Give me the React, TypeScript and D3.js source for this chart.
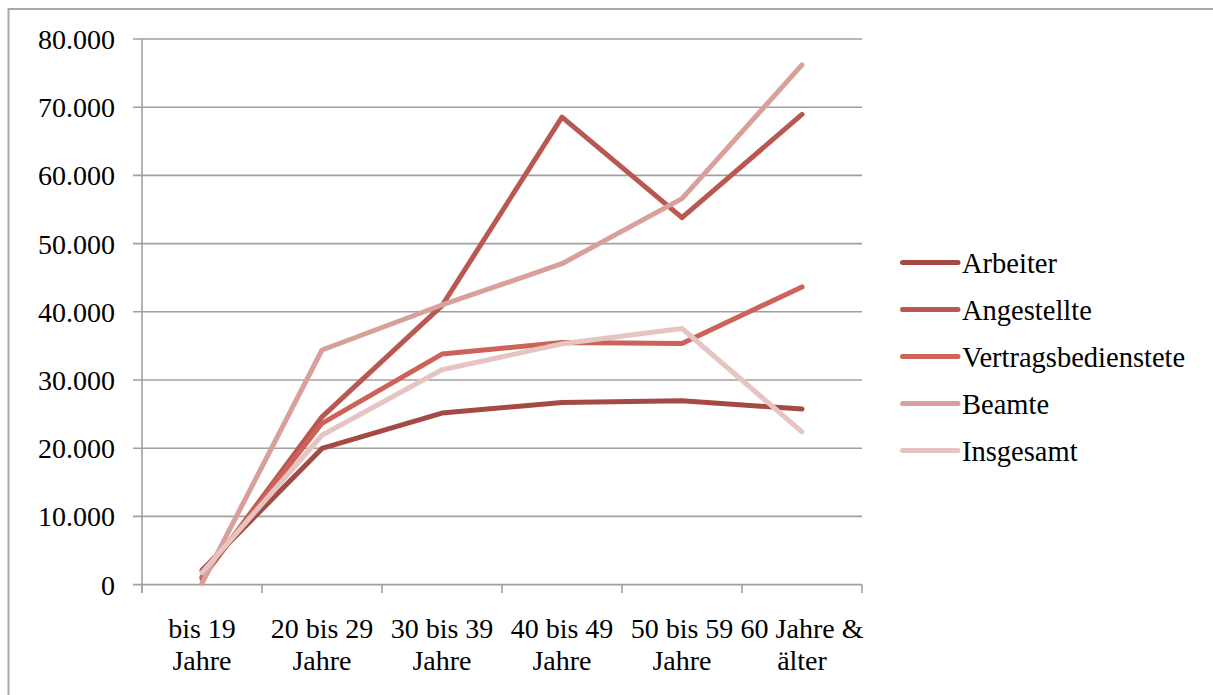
import React from "react";
import * as d3 from "d3";

// Age groups shown along the x axis (two-line labels)
const categories = ["bis 19 Jahre", "20 bis 29 Jahre", "30 bis 39 Jahre", "40 bis 49 Jahre", "50 bis 59 Jahre", "60 Jahre & älter"];
const categoryLines = [
  ["bis 19", "Jahre"],
  ["20 bis 29", "Jahre"],
  ["30 bis 39", "Jahre"],
  ["40 bis 49", "Jahre"],
  ["50 bis 59", "Jahre"],
  ["60 Jahre &", "älter"],
];

// Income per employee group and age group
const arbeiter = [2100, 19970, 25150, 26700, 26950, 25750];
const angestellte = [900, 24600, 40900, 68550, 53800, 68950];
const vertragsbedienstete = [1150, 23650, 33800, 35500, 35350, 43650];
const beamte = [200, 34400, 41000, 47050, 56600, 76200];
const insgesamt = [1750, 21900, 31500, 35300, 37550, 22400];

const seriesNames = ["Arbeiter", "Angestellte", "Vertragsbedienstete", "Beamte", "Insgesamt"];
const seriesColors = ["#A44A44", "#B95850", "#CD6259", "#D9A09B", "#E6C4C1"];
const yTicks = [0, 10000, 20000, 30000, 40000, 50000, 60000, 70000, 80000];

const seriesValues = [arbeiter, angestellte, vertragsbedienstete, beamte, insgesamt];

const W = 1213;
const H = 695;
const FONT = "'Liberation Serif', 'DejaVu Serif', serif";

const de = d3.formatLocale({ decimal: ",", thousands: ".", grouping: [3], currency: ["", " €"] });
const fmt = de.format(",.0f");

export default function App() {
  const x = d3.scaleBand<string>().domain(categories).range([142, 862]);
  const y = d3.scaleLinear().domain([0, 80000]).range([584.6, 39]);
  const line = d3
    .line<number>()
    .x((_, i) => (x(categories[i]) as number) + x.bandwidth() / 2)
    .y((v) => y(v));

  const grid = "#A0A0A0";
  const boundaries = [...categories.map((c) => x(c) as number), 862];

  return (
    <svg width={W} height={H} style={{ position: "absolute", left: 0, top: 0, background: "#fff" }} fontFamily={FONT}>
      {/* outer frame */}
      <rect x={8.5} y={9} width={W + 10} height={H + 10} fill="none" stroke="#A8A8A8" strokeWidth={2} />

      {/* horizontal grid lines and y tick labels */}
      {yTicks.map((t) => (
        <g key={t}>
          <line x1={133} x2={862} y1={y(t)} y2={y(t)} stroke={grid} strokeWidth={1.6} />
          <text x={115} y={y(t)} dy="0.36em" textAnchor="end" fontSize={28} fill="#000">
            {fmt(t)}
          </text>
        </g>
      ))}

      {/* y axis */}
      <line x1={142} x2={142} y1={y(80000)} y2={593} stroke={grid} strokeWidth={1.6} />
      {/* x axis tick marks at category boundaries */}
      {boundaries.map((b, i) => (
        <line key={i} x1={b} x2={b} y1={y(0)} y2={593} stroke={grid} strokeWidth={1.6} />
      ))}

      {/* category labels */}
      {categoryLines.map((lines, i) => (
        <text key={i} textAnchor="middle" fontSize={28} fill="#000">
          {lines.map((l, j) => (
            <tspan key={j} x={(x(categories[i]) as number) + x.bandwidth() / 2} y={638 + j * 32}>
              {l}
            </tspan>
          ))}
        </text>
      ))}

      {/* data lines */}
      {seriesValues.map((vals, i) => (
        <path
          key={seriesNames[i]}
          d={line(vals) as string}
          fill="none"
          stroke={seriesColors[i]}
          strokeWidth={5}
          strokeLinecap="round"
          strokeLinejoin="round"
        />
      ))}

      {/* legend */}
      {seriesNames.map((name, i) => {
        const ly = 262.5 + i * 47;
        return (
          <g key={name}>
            <line x1={902.5} x2={958} y1={ly} y2={ly} stroke={seriesColors[i]} strokeWidth={5} strokeLinecap="round" />
            <text x={962} y={ly} dy="0.36em" fontSize={28.5} fill="#000">
              {name}
            </text>
          </g>
        );
      })}
    </svg>
  );
}
